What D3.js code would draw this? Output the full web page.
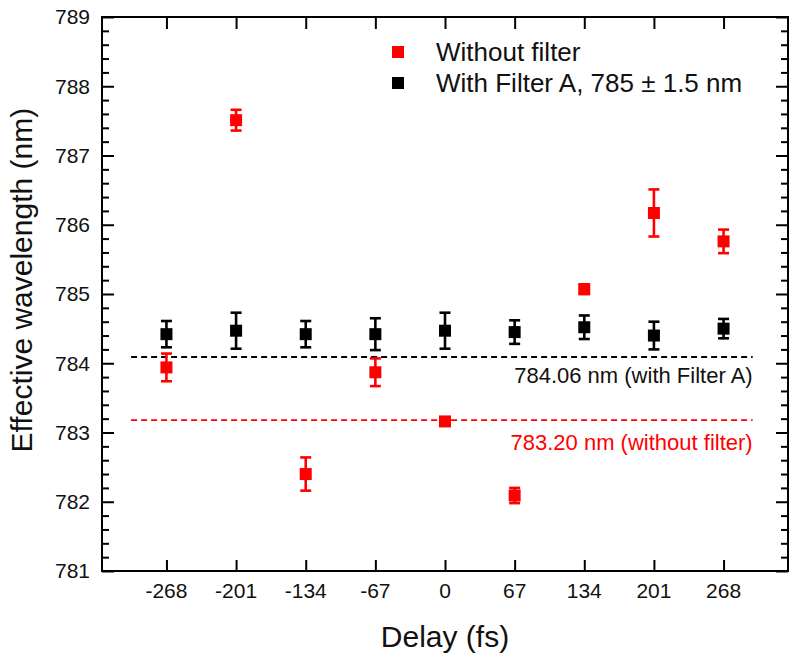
<!DOCTYPE html>
<html>
<head>
<meta charset="utf-8">
<script src="https://cdn.jsdelivr.net/npm/d3@7"></script>
<style>
  body { margin: 0; background: #fff; }
  text { font-family: "Liberation Sans", Arial, sans-serif; }
</style>
</head>
<body>
<div id="chart-area"></div>
<script>
// delay positions (fs)
const delays = [-268, -201, -134, -67, 0, 67, 134, 201, 268];

// without filter (red)
const noFilterVal = [783.94, 787.51, 782.40, 783.87, 783.16, 782.09, 785.07, 786.17, 785.76];
const noFilterErr = [0.20, 0.15, 0.24, 0.20, 0.05, 0.11, 0.07, 0.34, 0.17];

// with filter A (black)
const filterVal = [784.42, 784.47, 784.42, 784.42, 784.47, 784.45, 784.52, 784.40, 784.50];
const filterErr = [0.19, 0.26, 0.19, 0.23, 0.26, 0.17, 0.17, 0.20, 0.14];

const yTicks = [781, 782, 783, 784, 785, 786, 787, 788, 789];
const meanFilter = 784.09;
const meanNoFilter = 783.18;
const meanSpan = [-302, 296];

const W = 800, H = 665;
const margin = { top: 17, right: 12, bottom: 94, left: 102 };
const width = W - margin.left - margin.right;
const height = H - margin.top - margin.bottom;

const svg = d3.select("#chart-area")
    .append("svg")
    .attr("width", W)
    .attr("height", H);

const g = svg.append("g")
    .attr("transform", `translate(${margin.left}, ${margin.top})`);

const x = d3.scaleLinear().domain([-330, 330]).range([0, width]);
const y = d3.scaleLinear().domain([781, 789]).range([height, 0]);

const minorY = d3.range(781, 789.001, 0.2).filter(v => Math.abs(v - Math.round(v)) > 0.01);

// axes, ticks all pointing inward
g.append("g")
    .call(d3.axisRight(y).tickValues(yTicks).tickSize(12).tickFormat(""));
g.append("g")
    .call(d3.axisRight(y).tickValues(minorY).tickSize(7).tickFormat(""));
g.append("g")
    .attr("transform", `translate(${width}, 0)`)
    .call(d3.axisLeft(y).tickValues(yTicks).tickSize(12).tickFormat(""));
g.append("g")
    .attr("transform", `translate(${width}, 0)`)
    .call(d3.axisLeft(y).tickValues(minorY).tickSize(7).tickFormat(""));
g.append("g")
    .attr("transform", `translate(0, ${height})`)
    .call(d3.axisTop(x).tickValues(delays).tickSize(11).tickFormat(""));
g.append("g")
    .call(d3.axisBottom(x).tickValues(delays).tickSize(12).tickFormat(""));

g.selectAll(".domain").remove();
g.selectAll(".tick line").attr("stroke", "#000").attr("stroke-width", 2);

g.append("rect")
    .attr("width", width)
    .attr("height", height)
    .attr("fill", "none")
    .attr("stroke", "#000")
    .attr("stroke-width", 2);

// tick labels
g.selectAll(".ylab")
    .data(yTicks)
    .enter().append("text")
    .attr("x", -12)
    .attr("y", d => y(d))
    .attr("dy", "0.35em")
    .attr("text-anchor", "end")
    .attr("font-size", "21px")
    .attr("fill", "#111")
    .text(d => d);

g.selectAll(".xlab")
    .data(delays)
    .enter().append("text")
    .attr("x", d => x(d))
    .attr("y", height + 27)
    .attr("text-anchor", "middle")
    .attr("font-size", "21px")
    .attr("fill", "#111")
    .text(d => d);

// axis titles
g.append("text")
    .attr("transform", `translate(${32 - margin.left}, ${y(785.2)}) rotate(-90)`)
    .attr("text-anchor", "middle")
    .attr("font-size", "30px")
    .attr("fill", "#111")
    .text("Effective wavelength (nm)");

g.append("text")
    .attr("x", x(0))
    .attr("y", height + 76)
    .attr("text-anchor", "middle")
    .attr("font-size", "30px")
    .attr("fill", "#111")
    .text("Delay (fs)");

// mean lines
g.append("line")
    .attr("x1", x(meanSpan[0])).attr("x2", x(meanSpan[1]))
    .attr("y1", y(meanFilter)).attr("y2", y(meanFilter))
    .attr("stroke", "#000").attr("stroke-width", 1.8)
    .attr("stroke-dasharray", "6,4");

g.append("line")
    .attr("x1", x(meanSpan[0])).attr("x2", x(meanSpan[1]))
    .attr("y1", y(meanNoFilter)).attr("y2", y(meanNoFilter))
    .attr("stroke", "#f00").attr("stroke-width", 1.8)
    .attr("stroke-dasharray", "6,4");

g.append("text")
    .attr("x", x(meanSpan[1]))
    .attr("y", y(meanFilter) + 26)
    .attr("text-anchor", "end")
    .attr("font-size", "22px")
    .attr("fill", "#111")
    .text("784.06 nm (with Filter A)");

g.append("text")
    .attr("x", x(meanSpan[1]))
    .attr("y", y(meanNoFilter) + 30)
    .attr("text-anchor", "end")
    .attr("font-size", "22px")
    .attr("fill", "#f00")
    .text("783.20 nm (without filter)");

// error bar series
function drawSeries(vals, errs, color) {
    const data = delays.map((d, i) => ({ d: d, v: vals[i], e: errs[i] }));
    const s = g.append("g");
    const cap = 5.5;
    s.selectAll(".eb").data(data).enter().append("line")
        .attr("x1", d => x(d.d)).attr("x2", d => x(d.d))
        .attr("y1", d => y(d.v - d.e)).attr("y2", d => y(d.v + d.e))
        .attr("stroke", color).attr("stroke-width", 2.6);
    s.selectAll(".ct").data(data).enter().append("line")
        .attr("x1", d => x(d.d) - cap).attr("x2", d => x(d.d) + cap)
        .attr("y1", d => y(d.v + d.e)).attr("y2", d => y(d.v + d.e))
        .attr("stroke", color).attr("stroke-width", 2.6);
    s.selectAll(".cb").data(data).enter().append("line")
        .attr("x1", d => x(d.d) - cap).attr("x2", d => x(d.d) + cap)
        .attr("y1", d => y(d.v - d.e)).attr("y2", d => y(d.v - d.e))
        .attr("stroke", color).attr("stroke-width", 2.6);
    s.selectAll("rect").data(data).enter().append("rect")
        .attr("x", d => x(d.d) - 6)
        .attr("y", d => y(d.v) - 6)
        .attr("width", 12).attr("height", 12)
        .attr("fill", color);
}

drawSeries(filterVal, filterErr, "#000");
drawSeries(noFilterVal, noFilterErr, "#f00");

// legend
const legend = svg.append("g").attr("transform", "translate(398, 52)");
const legendItems = [
    { label: "Without filter", color: "#f00" },
    { label: "With Filter A, 785 \u00b1 1.5 nm", color: "#000" }
];
legendItems.forEach((item, i) => {
    legend.append("rect")
        .attr("x", -6).attr("y", i * 31 - 6)
        .attr("width", 12).attr("height", 12)
        .attr("fill", item.color);
    legend.append("text")
        .attr("x", 38).attr("y", i * 31 + 9)
        .attr("font-size", "26px")
        .attr("fill", "#111")
        .text(item.label);
});
</script>
</body>
</html>
